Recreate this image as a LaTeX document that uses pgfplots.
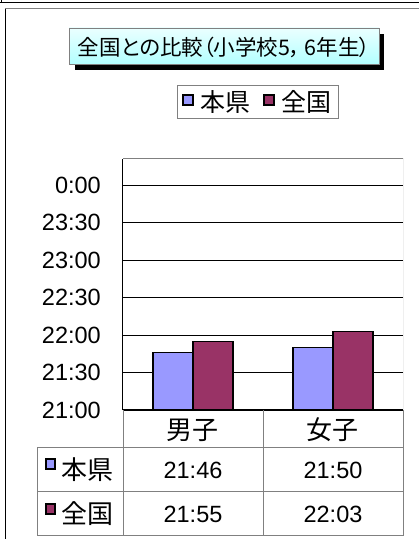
\documentclass[border=0pt]{standalone}
\usepackage{pgfplots}
\pgfplotsset{compat=1.18}
\usepackage{fontspec}
\setmainfont{Liberation Sans}
\newfontfamily\jp{Noto Sans CJK JP}
\newfontfamily\jpp{Noto Sans CJK JP}[RawFeature=+palt]
\definecolor{ken}{HTML}{9999FF}
\definecolor{zen}{HTML}{993366}
\definecolor{lgrid}{HTML}{808080}
\begin{document}
\begin{tikzpicture}[x=1pt,y=1pt]
\path[use as bounding box] (0,0) rectangle (419,539);
\fill[white] (0,0) rectangle (419,539);
% top strip and frame
\draw[black, line width=1pt] (0,536) -- (419,536);
\draw[black, line width=1pt] (1,539) -- (1,536);
\draw[lgrid, line width=1pt] (5,530) -- (419,530);
\draw[black, line width=1pt] (5,530) -- (5,0);
% title
\fill[black] (75,539-70) rectangle (384,539-34);
\shade[top color=cyan!8, bottom color=cyan!30] (69,539-64) rectangle (379,539-28);
\draw[lgrid, line width=0.8pt] (69,539-64) rectangle (379,539-28);
\node[font=\jpp\fontsize{21.5}{21.5}\selectfont, inner sep=0pt] at (224,539-47) {全国との比較（小学校5，\,6年生）};
\begin{axis}[
  at={(123pt,129pt)}, anchor=south west,
  scale only axis, width=280pt, height=251pt,
  xmin=-0.5, xmax=1.5, ymin=0, ymax=201,
  xtick={0,1}, xticklabels={男子,女子},
  ytick={0,30,60,90,120,150,180},
  yticklabels={21:00,21:30,22:00,22:30,23:00,23:30,0:00},
  major tick length=0pt,
  axis x line*=bottom, axis y line*=left,
  axis line style={black, line width=1pt, -},
  ymajorgrids, major grid style={black, line width=0.7pt},
  yticklabel style={font=\fontsize{23.5}{23.5}\selectfont, inner sep=0pt, xshift=-22pt},
  xticklabel style={font=\jp\fontsize{26}{26}\selectfont, anchor=center, inner sep=0pt, yshift=-20pt},
  ybar=0pt, bar width=40pt,
  legend columns=2,
  legend style={at={(0.482,1.227)}, anchor=center, draw=lgrid, line width=0.8pt,
     font=\jp\fontsize{25}{25}\selectfont, inner xsep=5pt, inner ysep=3pt,
     /tikz/every odd column/.append style={column sep=5pt},
     /tikz/every even column/.append style={column sep=10pt}},
  legend image code/.code={\draw[#1, line width=1.8pt] (0pt,-3pt) rectangle (10pt,7pt);},
]
\addplot[draw=black, line width=1.5pt, fill=ken] coordinates {(0,46) (1,50)};
\addplot[draw=black, line width=1.5pt, fill=zen] coordinates {(0,55) (1,63)};
\legend{本県,全国}
\draw[lgrid, line width=1pt] (rel axis cs:0,1) -- (rel axis cs:1,1) -- (rel axis cs:1,0);
\end{axis}
% data table
\begin{scope}[lgrid, line width=1pt]
\draw (123,539-410) -- (123,539-536);
\draw (263,539-410) -- (263,539-536);
\draw (403,539-410) -- (403,539-536);
\draw (37,539-448) -- (403,539-448);
\draw (37,539-492) -- (403,539-492);
\draw (37,539-536) -- (403,539-536);
\draw (37,539-448) -- (37,539-536);
\end{scope}
\draw[black, line width=1.8pt, fill=ken] (46,539-469) rectangle (55,539-459);
\draw[black, line width=1.8pt, fill=zen] (46,539-514) rectangle (55,539-504);
\node[font=\jp\fontsize{26}{26}\selectfont, anchor=west, inner sep=0pt] at (61,539-470) {本県};
\node[font=\jp\fontsize{26}{26}\selectfont, anchor=west, inner sep=0pt] at (61,539-514) {全国};
\begin{scope}[every node/.style={font=\fontsize{23.5}{23.5}\selectfont, inner sep=0pt}]
\node at (193,539-470) {21:46};
\node at (333,539-470) {21:50};
\node at (193,539-514) {21:55};
\node at (333,539-514) {22:03};
\end{scope}
\end{tikzpicture}
\end{document}
